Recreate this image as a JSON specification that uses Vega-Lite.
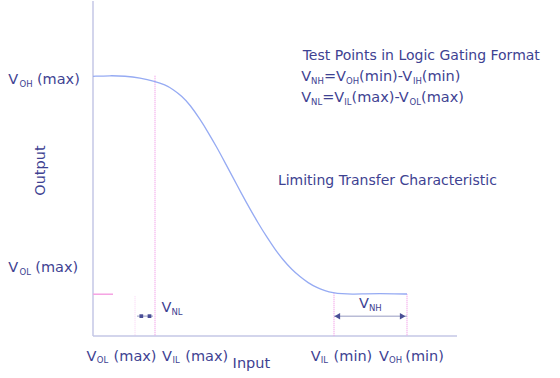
{
  "$schema": "https://vega.github.io/schema/vega-lite/v6.json",
  "width": 560,
  "height": 378,
  "autosize": {"type": "fit", "contains": "padding"},
  "padding": 0,
  "background": "white",
  "view": {"stroke": null},
  "config": {"text": {"font": "DejaVu Sans"}},
  "datasets": {
    "curve": [
      {"x": 0, "y": 8.683}, {"x": 0.425, "y": 8.707}, {"x": 0.8, "y": 8.693}, {"x": 1.175, "y": 8.633},
      {"x": 1.55, "y": 8.517}, {"x": 1.8, "y": 8.4}, {"x": 2.0, "y": 8.25}, {"x": 2.225, "y": 8.017},
      {"x": 2.425, "y": 7.733}, {"x": 2.675, "y": 7.25}, {"x": 2.875, "y": 6.817}, {"x": 3.1, "y": 6.3},
      {"x": 3.3, "y": 5.8}, {"x": 3.5, "y": 5.3}, {"x": 3.725, "y": 4.733}, {"x": 3.925, "y": 4.25},
      {"x": 4.125, "y": 3.783}, {"x": 4.35, "y": 3.3}, {"x": 4.55, "y": 2.9}, {"x": 4.75, "y": 2.55},
      {"x": 4.975, "y": 2.217}, {"x": 5.175, "y": 1.983}, {"x": 5.375, "y": 1.783}, {"x": 5.6, "y": 1.617},
      {"x": 5.8, "y": 1.517}, {"x": 6.0, "y": 1.45}, {"x": 6.225, "y": 1.413}, {"x": 6.475, "y": 1.4},
      {"x": 6.8, "y": 1.413}, {"x": 7.175, "y": 1.42}, {"x": 7.55, "y": 1.413}, {"x": 7.85, "y": 1.407}
    ],
    "rules": [
      {"kind": "axis", "x": 0, "y": 0, "x2": 0, "y2": 11.2},
      {"kind": "axis", "x": 0, "y": 0, "x2": 9.1, "y2": 0},
      {"kind": "guide", "x": 1.55, "y": 8.7, "x2": 1.55, "y2": 0},
      {"kind": "guide", "x": 6.025, "y": 1.433, "x2": 6.025, "y2": 0},
      {"kind": "guide", "x": 7.85, "y": 1.4, "x2": 7.85, "y2": 0},
      {"kind": "faint", "x": 1.05, "y": 1.333, "x2": 1.05, "y2": 0},
      {"kind": "limit", "x": 0, "y": 1.4, "x2": 0.5, "y2": 1.4},
      {"kind": "span", "x": 6.025, "y": 0.667, "x2": 7.85, "y2": 0.667},
      {"kind": "span", "x": 1.1, "y": 0.667, "x2": 1.5, "y2": 0.667}
    ],
    "marks": [
      {"kind": "head", "end": "left", "x": 6.1075, "y": 0.667},
      {"kind": "head", "end": "right", "x": 7.7425, "y": 0.667},
      {"kind": "dot", "end": "left", "x": 1.2075, "y": 0.667},
      {"kind": "dot", "end": "right", "x": 1.4125, "y": 0.667}
    ],
    "texts": [
      {"role": "main", "x": -2.12, "y": 8.423, "t": "V"},
      {"role": "sub", "x": -1.8375, "y": 8.423, "t": "OH"},
      {"role": "main", "x": -1.4025, "y": 8.423, "t": "(max)"},
      {"role": "main", "x": -2.12, "y": 2.143, "t": "V"},
      {"role": "sub", "x": -1.8375, "y": 2.143, "t": "OL"},
      {"role": "main", "x": -1.4425, "y": 2.143, "t": "(max)"},
      {"role": "main", "x": -0.1625, "y": -0.823, "t": "V"},
      {"role": "sub", "x": 0.095, "y": -0.823, "t": "OL"},
      {"role": "main", "x": 0.515, "y": -0.823, "t": "(max)"},
      {"role": "main", "x": 1.7275, "y": -0.823, "t": "V"},
      {"role": "sub", "x": 1.985, "y": -0.823, "t": "IL"},
      {"role": "main", "x": 2.3075, "y": -0.823, "t": "(max)"},
      {"role": "main", "x": 5.445, "y": -0.823, "t": "V"},
      {"role": "sub", "x": 5.695, "y": -0.823, "t": "IL"},
      {"role": "main", "x": 6.015, "y": -0.823, "t": "(min)"},
      {"role": "main", "x": 7.1525, "y": -0.823, "t": "V"},
      {"role": "sub", "x": 7.4, "y": -0.823, "t": "OH"},
      {"role": "main", "x": 7.8075, "y": -0.823, "t": "(min)"},
      {"role": "main", "x": 3.49, "y": -1.0767, "t": "Input"},
      {"role": "main", "x": 1.7125, "y": 0.81, "t": "V"},
      {"role": "sub", "x": 1.96, "y": 0.81, "t": "NL"},
      {"role": "main", "x": 6.65, "y": 0.923, "t": "V"},
      {"role": "sub", "x": 6.9, "y": 0.923, "t": "NH"},
      {"role": "note", "x": 4.6225, "y": 5.067, "t": "Limiting Transfer Characteristic"},
      {"role": "note", "x": 5.2425, "y": 9.223, "t": "Test Points in Logic Gating Format"},
      {"role": "main", "x": 5.205, "y": 8.51, "t": "V"},
      {"role": "sub", "x": 5.4525, "y": 8.51, "t": "NH"},
      {"role": "main", "x": 5.7725, "y": 8.51, "t": "=V"},
      {"role": "sub", "x": 6.325, "y": 8.51, "t": "OH"},
      {"role": "main", "x": 6.6525, "y": 8.51, "t": "(min)-V"},
      {"role": "sub", "x": 7.9975, "y": 8.51, "t": "IH"},
      {"role": "main", "x": 8.22, "y": 8.51, "t": "(min)"},
      {"role": "main", "x": 5.205, "y": 7.81, "t": "V"},
      {"role": "sub", "x": 5.4525, "y": 7.81, "t": "NL"},
      {"role": "main", "x": 5.73, "y": 7.81, "t": "=V"},
      {"role": "sub", "x": 6.2825, "y": 7.81, "t": "IL"},
      {"role": "main", "x": 6.4625, "y": 7.81, "t": "(max)-V"},
      {"role": "sub", "x": 7.915, "y": 7.81, "t": "OL"},
      {"role": "main", "x": 8.2, "y": 7.81, "t": "(max)"},
      {"role": "vlabel", "x": -1.2, "y": 5.533, "t": "Output"}
    ]
  },
  "layer": [
    {
      "data": {"name": "rules"},
      "transform": [{"filter": "datum.kind == 'axis'"}],
      "mark": {"type": "rule", "color": "#c5c7e6", "strokeWidth": 1.5},
      "encoding": {
        "x": {"field": "x", "type": "quantitative", "scale": {"domain": [-2.325, 11.675], "nice": false, "zero": false}, "axis": null},
        "y": {"field": "y", "type": "quantitative", "scale": {"domain": [-1.4, 11.2], "nice": false, "zero": false}, "axis": null},
        "x2": {"field": "x2"},
        "y2": {"field": "y2"}
      }
    },
    {
      "data": {"name": "rules"},
      "transform": [{"filter": "datum.kind == 'guide'"}],
      "mark": {"type": "rule", "color": "#f29be6", "strokeWidth": 1.2, "strokeDash": [1, 1]},
      "encoding": {
        "x": {"field": "x", "type": "quantitative", "scale": {"domain": [-2.325, 11.675], "nice": false, "zero": false}, "axis": null},
        "y": {"field": "y", "type": "quantitative", "scale": {"domain": [-1.4, 11.2], "nice": false, "zero": false}, "axis": null},
        "x2": {"field": "x2"},
        "y2": {"field": "y2"}
      }
    },
    {
      "data": {"name": "rules"},
      "transform": [{"filter": "datum.kind == 'faint'"}],
      "mark": {"type": "rule", "color": "#f29be6", "strokeWidth": 1, "strokeDash": [1, 1], "opacity": 0.45},
      "encoding": {
        "x": {"field": "x", "type": "quantitative", "scale": {"domain": [-2.325, 11.675], "nice": false, "zero": false}, "axis": null},
        "y": {"field": "y", "type": "quantitative", "scale": {"domain": [-1.4, 11.2], "nice": false, "zero": false}, "axis": null},
        "x2": {"field": "x2"},
        "y2": {"field": "y2"}
      }
    },
    {
      "data": {"name": "rules"},
      "transform": [{"filter": "datum.kind == 'limit'"}],
      "mark": {"type": "rule", "color": "#f5a3e3", "strokeWidth": 1.5},
      "encoding": {
        "x": {"field": "x", "type": "quantitative", "scale": {"domain": [-2.325, 11.675], "nice": false, "zero": false}, "axis": null},
        "y": {"field": "y", "type": "quantitative", "scale": {"domain": [-1.4, 11.2], "nice": false, "zero": false}, "axis": null},
        "x2": {"field": "x2"},
        "y2": {"field": "y2"}
      }
    },
    {
      "data": {"name": "rules"},
      "transform": [{"filter": "datum.kind == 'span'"}],
      "mark": {"type": "rule", "color": "#b9bcd6", "strokeWidth": 1.5},
      "encoding": {
        "x": {"field": "x", "type": "quantitative", "scale": {"domain": [-2.325, 11.675], "nice": false, "zero": false}, "axis": null},
        "y": {"field": "y", "type": "quantitative", "scale": {"domain": [-1.4, 11.2], "nice": false, "zero": false}, "axis": null},
        "x2": {"field": "x2"},
        "y2": {"field": "y2"}
      }
    },
    {
      "data": {"name": "curve"},
      "mark": {"type": "line", "color": "#96abf3", "strokeWidth": 1.3, "interpolate": "basis"},
      "encoding": {
        "x": {"field": "x", "type": "quantitative", "scale": {"domain": [-2.325, 11.675], "nice": false, "zero": false}, "axis": null},
        "y": {"field": "y", "type": "quantitative", "scale": {"domain": [-1.4, 11.2], "nice": false, "zero": false}, "axis": null}
      }
    },
    {
      "data": {"name": "marks"},
      "transform": [{"filter": "datum.kind == 'head'"}],
      "mark": {"type": "point", "filled": true, "size": 42, "color": "#4b4f97", "opacity": 1},
      "encoding": {
        "x": {"field": "x", "type": "quantitative", "scale": {"domain": [-2.325, 11.675], "nice": false, "zero": false}, "axis": null},
        "y": {"field": "y", "type": "quantitative", "scale": {"domain": [-1.4, 11.2], "nice": false, "zero": false}, "axis": null},
        "shape": {"field": "end", "type": "nominal", "scale": {"domain": ["left", "right"], "range": ["triangle-left", "triangle-right"]}, "legend": null}
      }
    },
    {
      "data": {"name": "marks"},
      "transform": [{"filter": "datum.kind == 'dot'"}],
      "mark": {"type": "square", "filled": true, "size": 14, "color": "#4b4f97", "opacity": 1},
      "encoding": {
        "x": {"field": "x", "type": "quantitative", "scale": {"domain": [-2.325, 11.675], "nice": false, "zero": false}, "axis": null},
        "y": {"field": "y", "type": "quantitative", "scale": {"domain": [-1.4, 11.2], "nice": false, "zero": false}, "axis": null}
      }
    },
    {
      "data": {"name": "texts"},
      "transform": [{"filter": "datum.role == 'main'"}],
      "mark": {"type": "text", "align": "left", "baseline": "alphabetic", "fontSize": 14.5, "color": "#3e4292"},
      "encoding": {
        "x": {"field": "x", "type": "quantitative", "scale": {"domain": [-2.325, 11.675], "nice": false, "zero": false}, "axis": null},
        "y": {"field": "y", "type": "quantitative", "scale": {"domain": [-1.4, 11.2], "nice": false, "zero": false}, "axis": null},
        "text": {"field": "t"}
      }
    },
    {
      "data": {"name": "texts"},
      "transform": [{"filter": "datum.role == 'note'"}],
      "mark": {"type": "text", "align": "left", "baseline": "alphabetic", "fontSize": 14, "color": "#3e4292"},
      "encoding": {
        "x": {"field": "x", "type": "quantitative", "scale": {"domain": [-2.325, 11.675], "nice": false, "zero": false}, "axis": null},
        "y": {"field": "y", "type": "quantitative", "scale": {"domain": [-1.4, 11.2], "nice": false, "zero": false}, "axis": null},
        "text": {"field": "t"}
      }
    },
    {
      "data": {"name": "texts"},
      "transform": [{"filter": "datum.role == 'sub'"}],
      "mark": {"type": "text", "align": "left", "baseline": "alphabetic", "fontSize": 8.5, "dy": 2.7, "color": "#3e4292"},
      "encoding": {
        "x": {"field": "x", "type": "quantitative", "scale": {"domain": [-2.325, 11.675], "nice": false, "zero": false}, "axis": null},
        "y": {"field": "y", "type": "quantitative", "scale": {"domain": [-1.4, 11.2], "nice": false, "zero": false}, "axis": null},
        "text": {"field": "t"}
      }
    },
    {
      "data": {"name": "texts"},
      "transform": [{"filter": "datum.role == 'vlabel'"}],
      "mark": {"type": "text", "align": "center", "baseline": "alphabetic", "angle": 270, "fontSize": 14.5, "color": "#3e4292"},
      "encoding": {
        "x": {"field": "x", "type": "quantitative", "scale": {"domain": [-2.325, 11.675], "nice": false, "zero": false}, "axis": null},
        "y": {"field": "y", "type": "quantitative", "scale": {"domain": [-1.4, 11.2], "nice": false, "zero": false}, "axis": null},
        "text": {"field": "t"}
      }
    }
  ]
}
